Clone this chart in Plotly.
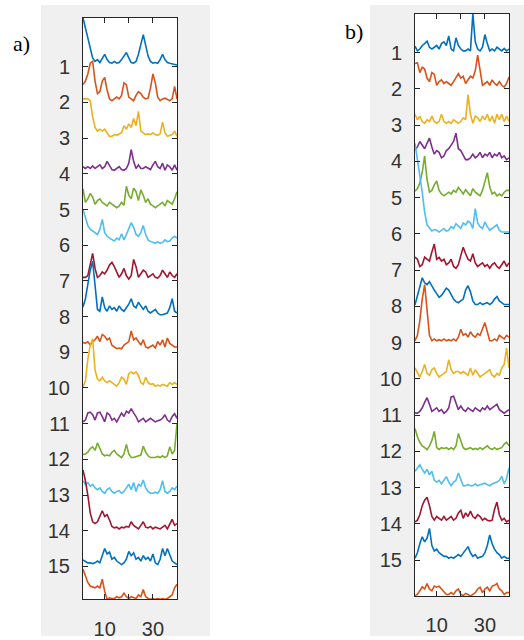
import plotly.graph_objects as go

# ---------------- data ----------------
t = list(range(1, 41))
colors = ["#0072BD", "#D95319", "#EDB120", "#7E2F8E", "#77AC30", "#4DBEEE", "#A2142F"]
ytick_vals = list(range(1, 16))
xtick_vals = [10, 20, 30]
xtick_text = ["10", "", "30"]

# panel a) amplitudes (units of tick spacing above each baseline)
a1 = [1.37, 1.1, 0.8, 0.5, 0.25, 0.15, 0.2, 0.12, 0.25, 0.35, 0.2, 0.12, 0.1, 0.15, 0.1, 0.12, 0.2, 0.3, 0.4, 0.25, 0.12, 0.1, 0.15, 0.35, 0.65, 0.9, 0.6, 0.3, 0.15, 0.1, 0.12, 0.1, 0.2, 0.35, 0.2, 0.12, 0.1, 0.08, 0.05, 0.05]
a2 = [0.5, 0.6, 0.8, 1.1, 1.15, 0.6, 0.25, 0.3, 0.6, 0.7, 0.35, 0.1, 0.05, 0.1, 0.15, 0.1, 0.2, 0.55, 0.5, 0.15, 0.1, 0.05, 0.2, 0.3, 0.25, 0.15, 0.1, 0.12, 0.4, 0.8, 0.55, 0.15, 0.05, 0.1, 0.12, 0.08, 0.05, 0.1, 0.45, 0.1]
a3 = [1.1, 1.1, 1.1, 1.05, 0.6, 0.3, 0.2, 0.25, 0.2, 0.25, 0.15, 0.05, 0.05, 0.1, 0.08, 0.12, 0.15, 0.35, 0.25, 0.4, 0.3, 0.55, 0.35, 0.75, 0.2, 0.15, 0.1, 0.12, 0.1, 0.15, 0.1, 0.08, 0.12, 0.45, 0.15, 0.05, 0.08, 0.1, 0.2, 0.05]
a4 = [0.2, 0.15, 0.2, 0.15, 0.22, 0.15, 0.2, 0.25, 0.15, 0.2, 0.35, 0.25, 0.12, 0.1, 0.15, 0.2, 0.12, 0.1, 0.15, 0.3, 0.68, 0.35, 0.15, 0.25, 0.15, 0.15, 0.2, 0.15, 0.12, 0.25, 0.35, 0.2, 0.15, 0.3, 0.1, 0.25, 0.2, 0.1, 0.25, 0.1]
a5 = [0.58, 0.2, 0.3, 0.45, 0.35, 0.15, 0.25, 0.3, 0.2, 0.15, 0.1, 0.2, 0.15, 0.1, 0.05, 0.1, 0.2, 0.12, 0.65, 0.4, 0.3, 0.6, 0.5, 0.25, 0.55, 0.4, 0.2, 0.3, 0.15, 0.1, 0.05, 0.1, 0.15, 0.2, 0.1, 0.25, 0.2, 0.15, 0.3, 0.5]
a6 = [1.0, 0.8, 0.55, 0.45, 0.4, 0.35, 0.3, 0.45, 0.72, 0.35, 0.25, 0.2, 0.15, 0.12, 0.2, 0.15, 0.32, 0.15, 0.3, 0.45, 0.63, 0.5, 0.3, 0.25, 0.35, 0.55, 0.3, 0.15, 0.1, 0.08, 0.05, 0.1, 0.05, 0.08, 0.15, 0.1, 0.12, 0.2, 0.25, 0.2]
a7 = [0.1, 0.1, 0.15, 0.5, 0.77, 0.35, 0.1, 0.15, 0.25, 0.2, 0.3, 0.45, 0.52, 0.4, 0.25, 0.1, 0.2, 0.35, 0.15, 0.05, 0.15, 0.6, 0.4, 0.1, 0.2, 0.3, 0.25, 0.1, 0.15, 0.2, 0.1, 0.08, 0.15, 0.3, 0.2, 0.1, 0.25, 0.15, 0.1, 0.2]
a8 = [0.27, 0.5, 0.9, 1.3, 1.55, 0.8, 0.2, 0.15, 0.55, 0.25, 0.15, 0.3, 0.2, 0.25, 0.15, 0.3, 0.2, 0.15, 0.25, 0.35, 0.5, 0.3, 0.25, 0.4, 0.3, 0.2, 0.3, 0.15, 0.1, 0.15, 0.2, 0.1, 0.05, 0.05, 0.08, 0.1, 0.25, 0.5, 0.15, 0.1]
a9 = [0.28, 0.25, 0.3, 0.2, 0.3, 0.35, 0.45, 0.3, 0.5, 0.45, 0.35, 0.4, 0.2, 0.15, 0.1, 0.12, 0.1, 0.2, 0.25, 0.3, 0.6, 0.35, 0.4, 0.3, 0.2, 0.35, 0.15, 0.12, 0.15, 0.2, 0.12, 0.3, 0.2, 0.35, 0.15, 0.4, 0.25, 0.2, 0.15, 0.15]
a10 = [0.03, 0.2, 0.8, 1.2, 1.38, 0.5, 0.25, 0.2, 0.3, 0.2, 0.15, 0.2, 0.15, 0.1, 0.05, 0.15, 0.3, 0.25, 0.1, 0.4, 0.45, 0.4, 0.45, 0.35, 0.15, 0.1, 0.3, 0.15, 0.1, 0.12, 0.05, 0.08, 0.05, 0.1, 0.08, 0.05, 0.15, 0.1, 0.15, 0.1]
a11 = [0.05, 0.1, 0.3, 0.32, 0.25, 0.1, 0.3, 0.32, 0.2, 0.05, 0.3, 0.25, 0.1, 0.15, 0.05, 0.2, 0.3, 0.2, 0.35, 0.3, 0.42, 0.3, 0.2, 0.05, 0.1, 0.15, 0.05, 0.1, 0.15, 0.1, 0.05, 0.08, 0.1, 0.15, 0.25, 0.1, 0.05, 0.2, 0.28, 0.15]
a12 = [0.14, 0.15, 0.2, 0.3, 0.35, 0.25, 0.46, 0.3, 0.15, 0.1, 0.12, 0.1, 0.2, 0.25, 0.15, 0.1, 0.05, 0.15, 0.42, 0.15, 0.05, 0.05, 0.08, 0.1, 0.12, 0.37, 0.2, 0.1, 0.05, 0.05, 0.05, 0.08, 0.05, 0.1, 0.05, 0.1, 0.35, 0.15, 0.25, 1.0]
a13 = [0.4, 0.3, 0.35, 0.25, 0.3, 0.2, 0.15, 0.2, 0.1, 0.05, 0.15, 0.2, 0.1, 0.05, 0.1, 0.12, 0.05, 0.1, 0.2, 0.3, 0.15, 0.35, 0.1, 0.3, 0.25, 0.42, 0.2, 0.1, 0.05, 0.05, 0.08, 0.05, 0.15, 0.4, 0.1, 0.05, 0.1, 0.2, 0.15, 0.25]
a14 = [1.7, 1.4, 1.0, 0.5, 0.25, 0.2, 0.25, 0.4, 0.56, 0.4, 0.45, 0.3, 0.12, 0.08, 0.1, 0.05, 0.1, 0.08, 0.12, 0.1, 0.25, 0.15, 0.1, 0.05, 0.15, 0.25, 0.1, 0.08, 0.12, 0.05, 0.1, 0.08, 0.05, 0.1, 0.15, 0.05, 0.2, 0.32, 0.15, 0.2]
a15 = [0.18, 0.15, 0.1, 0.1, 0.08, 0.1, 0.15, 0.1, 0.3, 0.5, 0.35, 0.4, 0.2, 0.25, 0.15, 0.1, 0.05, 0.1, 0.2, 0.42, 0.3, 0.38, 0.2, 0.25, 0.15, 0.3, 0.2, 0.25, 0.15, 0.35, 0.1, 0.05, 0.2, 0.5, 0.3, 0.5, 0.35, 0.15, 0.1, 0.05]
a16 = [0.92, 0.75, 0.55, 0.45, 0.42, 0.4, 0.45, 0.4, 0.64, 0.3, 0.08, 0.12, 0.1, 0.1, 0.15, 0.12, 0.15, 0.25, 0.15, 0.1, 0.15, 0.12, 0.1, 0.2, 0.15, 0.35, 0.15, 0.1, 0.08, 0.1, 0.08, 0.1, 0.08, 0.1, 0.08, 0.1, 0.15, 0.2, 0.4, 0.5]

# panel b)
b1 = [0.18, 0.05, 0.1, 0.2, 0.25, 0.32, 0.15, 0.1, 0.15, 0.2, 0.1, 0.25, 0.3, 0.2, 0.46, 0.1, 0.05, 0.41, 0.2, 0.1, 0.05, 0.05, 0.1, 0.05, 1.07, 0.3, 0.1, 0.05, 0.15, 0.5, 0.25, 0.05, 0.1, 0.05, 0.15, 0.1, 0.05, 0.12, 0.05, 0.1]
b2 = [0.7, 0.72, 0.45, 0.6, 0.55, 0.3, 0.2, 0.45, 0.4, 0.1, 0.2, 0.25, 0.15, 0.2, 0.15, 0.1, 0.2, 0.3, 0.42, 0.3, 0.35, 0.15, 0.25, 0.35, 0.3, 0.5, 0.93, 0.55, 0.1, 0.15, 0.2, 0.1, 0.25, 0.15, 0.1, 0.2, 0.1, 0.05, 0.15, 0.33]
b3 = [0.3, 0.15, 0.25, 0.1, 0.05, 0.15, 0.1, 0.25, 0.1, 0.05, 0.1, 0.3, 0.1, 0.05, 0.1, 0.05, 0.15, 0.1, 0.05, 0.1, 0.2, 0.15, 0.84, 0.3, 0.05, 0.25, 0.2, 0.1, 0.25, 0.15, 0.3, 0.1, 0.25, 0.05, 0.3, 0.15, 0.3, 0.1, 0.25, 0.1]
b4 = [0.32, 0.4, 0.55, 0.45, 0.35, 0.5, 0.64, 0.4, 0.2, 0.3, 0.25, 0.1, 0.15, 0.3, 0.35, 0.45, 0.55, 0.78, 0.35, 0.3, 0.15, 0.05, 0.05, 0.1, 0.2, 0.1, 0.15, 0.25, 0.1, 0.2, 0.15, 0.25, 0.1, 0.2, 0.15, 0.25, 0.1, 0.15, 0.05, 0.1]
b5 = [0.18, 0.25, 0.4, 0.7, 1.15, 0.5, 0.15, 0.2, 0.35, 0.46, 0.2, 0.1, 0.05, 0.1, 0.15, 0.1, 0.2, 0.15, 0.28, 0.2, 0.1, 0.22, 0.15, 0.05, 0.25, 0.15, 0.1, 0.05, 0.2, 0.45, 0.69, 0.3, 0.1, 0.15, 0.05, 0.1, 0.05, 0.15, 0.2, 0.2]
b6 = [2.5, 2.1, 1.6, 1.15, 0.6, 0.25, 0.15, 0.08, 0.12, 0.1, 0.05, 0.1, 0.15, 0.08, 0.1, 0.2, 0.15, 0.28, 0.2, 0.15, 0.3, 0.25, 0.35, 0.3, 0.15, 0.7, 0.3, 0.2, 0.15, 0.33, 0.2, 0.1, 0.15, 0.2, 0.25, 0.1, 0.05, 0.05, 0.05, 0.05]
b7 = [0.36, 0.3, 0.1, 0.15, 0.36, 0.3, 0.25, 0.5, 0.72, 0.3, 0.35, 0.25, 0.3, 0.15, 0.2, 0.3, 0.1, 0.05, 0.15, 0.4, 0.63, 0.45, 0.3, 0.25, 0.45, 0.2, 0.1, 0.15, 0.2, 0.1, 0.15, 0.05, 0.15, 0.2, 0.1, 0.05, 0.15, 0.25, 0.1, 0.2]
b8 = [0.04, 0.3, 0.6, 0.79, 0.65, 0.6, 0.68, 0.55, 0.45, 0.35, 0.25, 0.3, 0.4, 0.5, 0.45, 0.3, 0.2, 0.13, 0.1, 0.15, 0.2, 0.45, 0.57, 0.4, 0.15, 0.05, 0.05, 0.1, 0.05, 0.08, 0.1, 0.05, 0.1, 0.2, 0.27, 0.15, 0.1, 0.05, 0.05, 0.05]
b9 = [0.05, 0.2, 0.6, 1.2, 1.6, 0.9, 0.2, 0.05, 0.1, 0.05, 0.08, 0.05, 0.1, 0.05, 0.08, 0.05, 0.1, 0.05, 0.15, 0.37, 0.2, 0.25, 0.15, 0.3, 0.2, 0.15, 0.25, 0.2, 0.4, 0.55, 0.3, 0.05, 0.05, 0.1, 0.05, 0.2, 0.15, 0.1, 0.2, 0.15]
b10 = [0.3, 0.15, 0.05, 0.2, 0.4, 0.15, 0.1, 0.25, 0.3, 0.15, 0.05, 0.1, 0.15, 0.2, 0.53, 0.25, 0.15, 0.2, 0.2, 0.15, 0.2, 0.15, 0.1, 0.3, 0.1, 0.25, 0.15, 0.05, 0.1, 0.15, 0.2, 0.25, 0.1, 0.05, 0.15, 0.1, 0.3, 0.4, 0.85, 0.3]
b11 = [0.06, 0.05, 0.1, 0.2, 0.35, 0.48, 0.3, 0.1, 0.15, 0.2, 0.1, 0.15, 0.05, 0.1, 0.2, 0.5, 0.52, 0.3, 0.15, 0.25, 0.15, 0.1, 0.2, 0.15, 0.1, 0.2, 0.15, 0.1, 0.2, 0.15, 0.25, 0.15, 0.2, 0.25, 0.3, 0.15, 0.1, 0.05, 0.1, 0.15]
b12 = [0.63, 0.4, 0.25, 0.15, 0.1, 0.05, 0.15, 0.3, 0.55, 0.1, 0.05, 0.1, 0.08, 0.1, 0.05, 0.1, 0.05, 0.15, 0.49, 0.3, 0.1, 0.05, 0.08, 0.1, 0.05, 0.08, 0.05, 0.1, 0.05, 0.1, 0.15, 0.08, 0.05, 0.1, 0.05, 0.08, 0.1, 0.2, 0.25, 0.15]
b13 = [0.45, 0.55, 0.63, 0.5, 0.4, 0.5, 0.35, 0.45, 0.2, 0.15, 0.2, 0.1, 0.2, 0.3, 0.15, 0.05, 0.15, 0.2, 0.4, 0.2, 0.05, 0.05, 0.08, 0.05, 0.05, 0.1, 0.05, 0.08, 0.1, 0.12, 0.08, 0.05, 0.1, 0.12, 0.15, 0.2, 0.31, 0.1, 0.25, 0.54]
b14 = [0.05, 0.1, 0.25, 0.5, 0.65, 0.73, 0.5, 0.2, 0.1, 0.2, 0.15, 0.1, 0.2, 0.1, 0.15, 0.2, 0.1, 0.15, 0.3, 0.37, 0.15, 0.3, 0.2, 0.35, 0.2, 0.15, 0.25, 0.2, 0.1, 0.15, 0.1, 0.08, 0.1, 0.4, 0.6, 0.25, 0.1, 0.15, 0.05, 0.1]
b15 = [0.05, 0.2, 0.45, 0.64, 0.5, 0.6, 0.87, 0.4, 0.25, 0.3, 0.2, 0.15, 0.1, 0.1, 0.05, 0.08, 0.05, 0.1, 0.15, 0.1, 0.2, 0.3, 0.37, 0.2, 0.1, 0.15, 0.05, 0.08, 0.1, 0.2, 0.4, 0.69, 0.45, 0.3, 0.2, 0.15, 0.05, 0.1, 0.05, 0.05]
b16 = [0.02, 0.05, 0.15, 0.26, 0.2, 0.35, 0.2, 0.15, 0.28, 0.25, 0.28, 0.2, 0.15, 0.05, 0.05, 0.1, 0.05, 0.15, 0.2, 0.05, 0.02, 0.08, 0.05, 0.0, 0.05, 0.1, 0.2, 0.25, 0.1, 0.2, 0.25, 0.15, 0.28, 0.3, 0.35, 0.2, 0.15, 0.05, 0.1, 0.1]

panel_a = [a1, a2, a3, a4, a5, a6, a7, a8, a9, a10, a11, a12, a13, a14, a15, a16]
panel_b = [b1, b2, b3, b4, b5, b6, b7, b8, b9, b10, b11, b12, b13, b14, b15, b16]

# ---------------- figure ----------------
W, H = 524, 640
fig = go.Figure()


def px_x(p):
    return p / W


def px_y(p):
    return 1 - p / H


panels = [
    dict(series=panel_a, xa="x", ya="y", dom_x=(83, 177), dom_y=(18, 603), xstand=12),
    dict(series=panel_b, xa="x2", ya="y2", dom_x=(415, 509), dom_y=(14, 600), xstand=11),
]

shapes = []
# grey figure backgrounds
shapes.append(dict(type="rect", xref="paper", yref="paper", x0=px_x(41), x1=px_x(210), y0=0, y1=px_y(5),
                   fillcolor="#f0f0f0", line=dict(width=0), layer="below"))
shapes.append(dict(type="rect", xref="paper", yref="paper", x0=px_x(370), x1=1.0, y0=0, y1=px_y(5),
                   fillcolor="#f0f0f0", line=dict(width=0), layer="below"))

axis_font = dict(family="Liberation Sans, Arial, sans-serif", size=20, color="#333333")

for k, p in enumerate(panels):
    ymin, ymax = 1e9, -1e9
    for i, vals in enumerate(p["series"]):
        base = i + 1
        ys = [base - v for v in vals]
        ymin = min(ymin, min(ys))
        ymax = max(ymax, max(ys))
        fig.add_trace(go.Scatter(x=t, y=ys, mode="lines", xaxis=p["xa"], yaxis=p["ya"],
                                 line=dict(color=colors[i % 7], width=1.6), showlegend=False,
                                 hoverinfo="skip"))
    x0, x1 = p["dom_x"]
    yt, yb = p["dom_y"]
    shapes.append(dict(type="rect", xref="paper", yref="paper", x0=px_x(x0), x1=px_x(x1),
                       y0=px_y(yb), y1=px_y(yt), fillcolor="white", line=dict(width=0), layer="below"))
    suffix = "" if k == 0 else str(k + 1)
    fig.update_layout(**{
        "xaxis" + suffix: dict(domain=[px_x(x0), px_x(x1)], range=[1, 40], tickvals=xtick_vals,
                               ticktext=xtick_text, ticks="inside", ticklen=5, tickcolor="#262626",
                               showline=True, linecolor="#262626", linewidth=1, mirror="ticks",
                               showgrid=False, zeroline=False, tickfont=axis_font,
                               ticklabelstandoff=p["xstand"], anchor="y" + suffix),
        "yaxis" + suffix: dict(domain=[px_y(yb), px_y(yt)], range=[ymax, ymin], tickvals=ytick_vals,
                               ticks="inside", ticklen=5, tickcolor="#262626",
                               showline=True, linecolor="#262626", linewidth=1, mirror="ticks",
                               showgrid=False, zeroline=False, tickfont=axis_font,
                               ticklabelstandoff=8, anchor="x" + suffix),
    })

annotations = [
    dict(text="a)", xref="paper", yref="paper", x=px_x(11), y=px_y(44), xanchor="left", yanchor="middle",
         showarrow=False, font=dict(family="Liberation Serif, Times New Roman, serif", size=22, color="black")),
    dict(text="b)", xref="paper", yref="paper", x=px_x(343), y=px_y(32), xanchor="left", yanchor="middle",
         showarrow=False, font=dict(family="Liberation Serif, Times New Roman, serif", size=22, color="black")),
]

fig.update_layout(width=W, height=H, margin=dict(l=0, r=0, t=0, b=0), paper_bgcolor="white",
                  plot_bgcolor="rgba(0,0,0,0)", shapes=shapes, annotations=annotations)

fig.write_html("out.html", config={"displayModeBar": False},
               post_script="document.body.style.margin='0px';document.body.style.overflow='hidden';")
